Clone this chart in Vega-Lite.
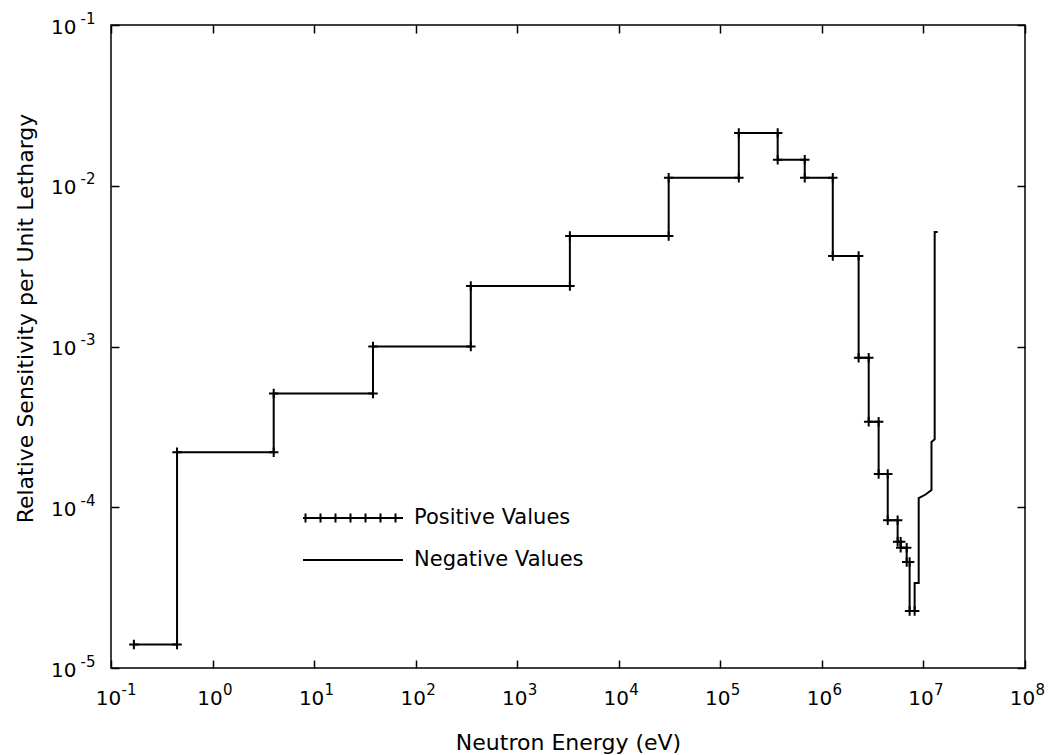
{
  "$schema": "https://vega.github.io/schema/vega-lite/v6.json",
  "width": 914,
  "height": 643,
  "autosize": "none",
  "padding": {"left": 111, "top": 25, "right": 24, "bottom": 87},
  "background": "white",
  "config": {
    "view": {"stroke": "black", "strokeWidth": 1.5},
    "font": "DejaVu Sans",
    "axis": {
      "grid": false,
      "domain": false,
      "ticks": true,
      "tickSize": -8,
      "tickWidth": 1.5,
      "tickColor": "black",
      "labelFont": "DejaVu Sans",
      "labelFontSize": 20,
      "labelColor": "black",
      "titleFont": "DejaVu Sans",
      "titleFontSize": 21,
      "titleFontWeight": "normal",
      "titleColor": "black"
    }
  },
  "data": {
    "values": [
      {"i": 1, "series": "Positive Values", "E": 0.168, "S": 1.4e-5},
      {"i": 2, "series": "Positive Values", "E": 0.447, "S": 1.4e-5},
      {"i": 3, "series": "Positive Values", "E": 0.447, "S": 2.2e-4},
      {"i": 4, "series": "Positive Values", "E": 4.0, "S": 2.2e-4},
      {"i": 5, "series": "Positive Values", "E": 4.0, "S": 5.1e-4},
      {"i": 6, "series": "Positive Values", "E": 38, "S": 5.1e-4},
      {"i": 7, "series": "Positive Values", "E": 38, "S": 1.0e-3},
      {"i": 8, "series": "Positive Values", "E": 349, "S": 1.0e-3},
      {"i": 9, "series": "Positive Values", "E": 349, "S": 2.38e-3},
      {"i": 10, "series": "Positive Values", "E": 3300, "S": 2.38e-3},
      {"i": 11, "series": "Positive Values", "E": 3300, "S": 4.87e-3},
      {"i": 12, "series": "Positive Values", "E": 31000, "S": 4.87e-3},
      {"i": 13, "series": "Positive Values", "E": 31000, "S": 1.12e-2},
      {"i": 14, "series": "Positive Values", "E": 152000, "S": 1.12e-2},
      {"i": 15, "series": "Positive Values", "E": 152000, "S": 2.13e-2},
      {"i": 16, "series": "Positive Values", "E": 367000, "S": 2.13e-2},
      {"i": 17, "series": "Positive Values", "E": 367000, "S": 1.45e-2},
      {"i": 18, "series": "Positive Values", "E": 678000, "S": 1.45e-2},
      {"i": 19, "series": "Positive Values", "E": 678000, "S": 1.12e-2},
      {"i": 20, "series": "Positive Values", "E": 1280000, "S": 1.12e-2},
      {"i": 21, "series": "Positive Values", "E": 1280000, "S": 3.66e-3},
      {"i": 22, "series": "Positive Values", "E": 2300000, "S": 3.66e-3},
      {"i": 23, "series": "Positive Values", "E": 2300000, "S": 8.5e-4},
      {"i": 24, "series": "Positive Values", "E": 2890000, "S": 8.5e-4},
      {"i": 25, "series": "Positive Values", "E": 2890000, "S": 3.4e-4},
      {"i": 26, "series": "Positive Values", "E": 3620000, "S": 3.4e-4},
      {"i": 27, "series": "Positive Values", "E": 3620000, "S": 1.61e-4},
      {"i": 28, "series": "Positive Values", "E": 4450000, "S": 1.61e-4},
      {"i": 29, "series": "Positive Values", "E": 4450000, "S": 8.3e-5},
      {"i": 30, "series": "Positive Values", "E": 5570000, "S": 8.3e-5},
      {"i": 31, "series": "Positive Values", "E": 5570000, "S": 6.1e-5},
      {"i": 32, "series": "Positive Values", "E": 5970000, "S": 6.1e-5},
      {"i": 33, "series": "Positive Values", "E": 5970000, "S": 5.6e-5},
      {"i": 34, "series": "Positive Values", "E": 6840000, "S": 5.6e-5},
      {"i": 35, "series": "Positive Values", "E": 6840000, "S": 4.56e-5},
      {"i": 36, "series": "Positive Values", "E": 7310000, "S": 4.56e-5},
      {"i": 37, "series": "Positive Values", "E": 7310000, "S": 2.26e-5},
      {"i": 38, "series": "Positive Values", "E": 8190000, "S": 2.26e-5},
      {"i": 39, "series": "Negative Values", "E": 8190000, "S": 2.26e-5},
      {"i": 40, "series": "Negative Values", "E": 8190000, "S": 3.38e-5},
      {"i": 41, "series": "Negative Values", "E": 8980000, "S": 3.38e-5},
      {"i": 42, "series": "Negative Values", "E": 8980000, "S": 1.14e-4},
      {"i": 43, "series": "Negative Values", "E": 10500000, "S": 1.2e-4},
      {"i": 44, "series": "Negative Values", "E": 12000000, "S": 1.28e-4},
      {"i": 45, "series": "Negative Values", "E": 12000000, "S": 2.55e-4},
      {"i": 46, "series": "Negative Values", "E": 12900000, "S": 2.65e-4},
      {"i": 47, "series": "Negative Values", "E": 12900000, "S": 5.15e-3},
      {"i": 48, "series": "Negative Values", "E": 13800000, "S": 5.15e-3}
    ]
  },
  "layer": [
    {
      "mark": {"type": "line", "strokeWidth": 2},
      "encoding": {
        "x": {
          "field": "E", "type": "quantitative",
          "scale": {"type": "log", "domain": [0.1, 100000000], "nice": false},
          "axis": {
            "orient": "bottom",
            "values": [0.1, 1, 10, 100, 1000, 10000, 100000, 1000000, 10000000, 100000000],
            "labelExpr": "'10'",
            "labelPadding": 28,
            "labelOffset": -3,
            "labelFlush": false,
            "labelOverlap": false,
            "title": "Neutron Energy (eV)",
            "titleFontSize": 22,
            "titleBaseline": "middle",
            "titleY": 74
          }
        },
        "y": {
          "field": "S", "type": "quantitative",
          "scale": {"type": "log", "domain": [0.00001, 0.1], "nice": false},
          "axis": {
            "orient": "left",
            "values": [0.00001, 0.0001, 0.001, 0.01, 0.1],
            "labelExpr": "'10'",
            "labelPadding": 43,
            "labelOffset": 2,
            "labelFlush": false,
            "labelOverlap": false,
            "title": "Relative Sensitivity per Unit Lethargy",
            "titleFontSize": 22,
            "titleBaseline": "middle",
            "titleX": -86,
            "titleY": 293
          }
        },
        "color": {
          "field": "series", "type": "nominal",
          "scale": {"domain": ["Positive Values", "Negative Values"], "range": ["black", "black"]},
          "legend": {
            "orient": "none",
            "legendX": 231,
            "legendY": 482,
            "title": null,
            "symbolSize": 400,
            "symbolStrokeWidth": 2,
            "symbolStrokeColor": "black",
            "labelFont": "DejaVu Sans",
            "labelFontSize": 21,
            "labelColor": "black",
            "labelOffset": 50,
            "labelLimit": 0,
            "rowPadding": 21,
            "encode": {
              "symbols": {
                "update": {
                  "shape": {"signal": "datum.value === 'Positive Values' ? 'M-5,0H5M-4.75,-0.45V0.45M-3.25,-0.45V0.45M-1.75,-0.45V0.45M-0.25,-0.45V0.45M1.25,-0.45V0.45M2.75,-0.45V0.45M4.25,-0.45V0.45' : 'M-5,0H5'"}
                }
              }
            }
          }
        },
        "order": {"field": "i", "type": "quantitative"}
      }
    },
    {
      "transform": [{"filter": "datum.series === 'Positive Values'"}],
      "mark": {"type": "point", "shape": "M-1,0H1M0,-1V1", "size": 90, "filled": false, "color": "black", "strokeWidth": 2, "opacity": 1},
      "encoding": {
        "x": {
          "field": "E", "type": "quantitative",
          "axis": {"orient": "top", "values": [0.1, 1, 10, 100, 1000, 10000, 100000, 1000000, 10000000, 100000000], "labels": false, "title": null}
        },
        "y": {
          "field": "S", "type": "quantitative",
          "axis": {"orient": "right", "values": [0.00001, 0.0001, 0.001, 0.01, 0.1], "labels": false, "title": null}
        }
      }
    },
    {
      "transform": [{"filter": "datum.i < 0"}],
      "mark": {"type": "line", "strokeWidth": 0},
      "encoding": {
        "x": {
          "field": "E", "type": "quantitative",
          "axis": {
            "orient": "bottom",
            "values": [0.1, 1, 10, 100, 1000, 10000, 100000, 1000000, 10000000, 100000000],
            "labelExpr": "(datum.value < 1 ? '-' : '') + round(abs(log(datum.value)/LN10))",
            "ticks": false,
            "labelFontSize": 15,
            "labelAlign": "left",
            "labelPadding": 14,
            "labelOffset": 10,
            "labelFlush": false,
            "labelOverlap": false,
            "title": null
          }
        },
        "y": {
          "field": "S", "type": "quantitative",
          "axis": {
            "orient": "left",
            "values": [0.00001, 0.0001, 0.001, 0.01, 0.1],
            "labelExpr": "(datum.value < 1 ? '-' : '') + round(abs(log(datum.value)/LN10))",
            "ticks": false,
            "labelFontSize": 15,
            "labelAlign": "left",
            "labelPadding": 31,
            "labelOffset": -7,
            "labelFlush": false,
            "labelOverlap": false,
            "title": null
          }
        }
      }
    }
  ],
  "resolve": {"axis": {"x": "independent", "y": "independent"}}
}
